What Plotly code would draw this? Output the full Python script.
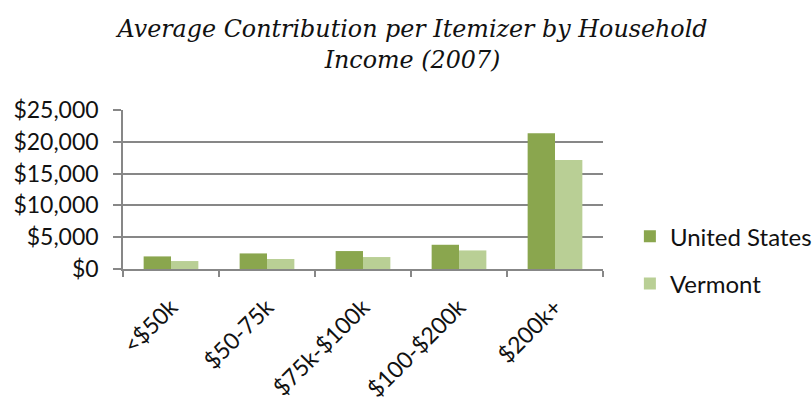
import plotly.graph_objects as go

categories = ["<$50k", "$50-75k", "$75k-$100k", "$100-$200k", "$200k+"]
us_values = [1980, 2450, 2820, 3810, 21340]
vt_values = [1250, 1570, 1880, 2920, 17150]

US_COLOR = "#8AA64E"
VT_COLOR = "#B9CF95"
GRID = "#878787"
FONT = "Lato, 'Open Sans', sans-serif"

fig = go.Figure()
fig.add_trace(go.Bar(name="United States", x=categories, y=us_values,
                     marker=dict(color=US_COLOR, line=dict(width=0)),
                     legendgroup="us"))
fig.add_trace(go.Bar(name="Vermont", x=categories, y=vt_values,
                     marker=dict(color=VT_COLOR, line=dict(width=0)),
                     legendgroup="vt"))

fig.update_layout(
    width=812, height=400,
    paper_bgcolor="white", plot_bgcolor="white",
    margin=dict(l=123, r=209, t=110, b=131, autoexpand=False),
    barmode="group", bargap=0.43, bargroupgap=0,
    title=dict(text="Average Contribution per Itemizer by Household<br>Income (2007)",
               x=0.508, xanchor="center", y=0.907, yanchor="top",
               font=dict(family="'DejaVu Serif', serif", size=23.8, color="#111111",
                         style="italic")),
    font=dict(family=FONT, size=22, color="#111111"),
    legend=dict(x=1.056, xanchor="left", y=0.055, yanchor="middle",
                font=dict(size=24), tracegroupgap=13,
                itemwidth=30, bgcolor="rgba(0,0,0,0)"),
    showlegend=True,
)

fig.update_yaxes(range=[0, 25000], dtick=5000, tickprefix="$", tickformat=",",
                 showgrid=True, gridcolor=GRID, gridwidth=1.5,
                 showline=True, linecolor=GRID, linewidth=1.5,
                 ticks="outside", ticklen=8, tickcolor=GRID, tickwidth=1.5,
                 ticklabelstandoff=10, zeroline=False, automargin=False,
                 tickfont=dict(size=23))
fig.update_xaxes(showline=True, linecolor=GRID, linewidth=1.5,
                 ticks="outside", ticklen=6, tickcolor=GRID, tickwidth=1.5,
                 tickson="boundaries", tickangle=-45, showgrid=False,
                 ticklabelstandoff=14, automargin=False,
                 tickfont=dict(size=23))

fig.write_html("out.html", config={"displayModeBar": False},
               post_script="document.body.style.margin='0px';document.body.style.overflow='hidden';")
